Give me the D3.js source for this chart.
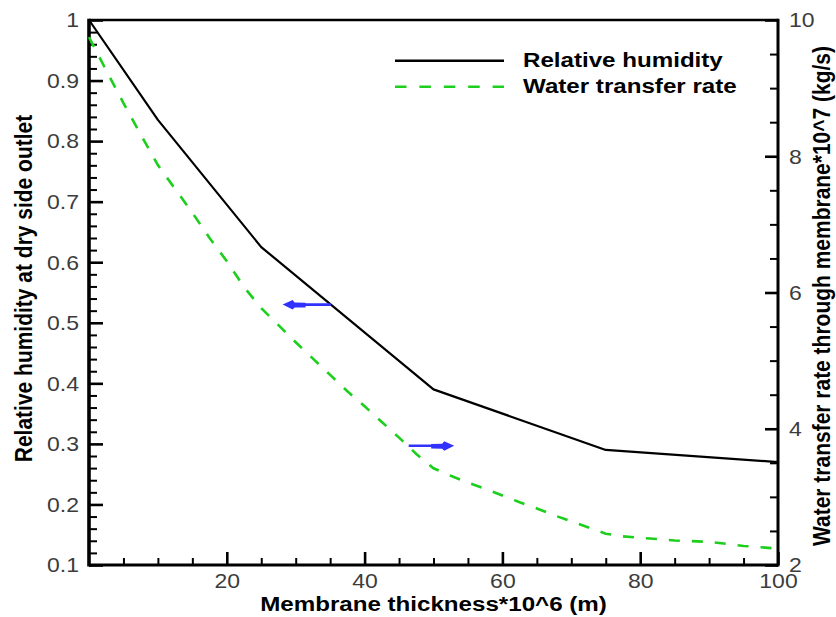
<!DOCTYPE html>
<html>
<head>
<meta charset="utf-8">
<script src="https://cdn.jsdelivr.net/npm/d3@7"></script>
<style>
  html, body { margin: 0; padding: 0; background: #fff; }
  svg { display: block; }
  text { font-family: "Liberation Sans", Arial, sans-serif; }
</style>
</head>
<body>
<svg id="chart" width="836" height="617"></svg>
<script>
// Membrane thickness (x 10^-6 m) for the relative humidity curve
const thickness = [0, 10, 25, 50, 75, 100];
// Relative humidity at the dry side outlet
const relHumidity = [1.0, 0.835, 0.625, 0.39, 0.29, 0.27];

// Membrane thickness samples for the water transfer curve
const rateThickness = [0, 2.5, 5, 7.5, 10, 12.5, 15, 17.5, 20, 22.5, 25, 27.5, 30, 32.5, 35,
  37.5, 40, 42.5, 45, 47.5, 50, 52.5, 55, 57.5, 60, 62.5, 65, 67.5, 70, 72.5, 75,
  77.5, 80, 82.5, 85, 87.5, 90, 92.5, 95, 97.5, 100];
// Water transfer rate through the membrane (x 10^-7 kg/s)
const waterRate = [9.75, 9.26, 8.78, 8.32, 7.87, 7.52, 7.17, 6.80, 6.46, 6.08, 5.77,
  5.52, 5.27, 5.03, 4.79, 4.55, 4.33, 4.10, 3.87, 3.63, 3.42, 3.31, 3.21, 3.12, 3.02,
  2.92, 2.83, 2.73, 2.64, 2.55, 2.46, 2.42, 2.40, 2.38, 2.36, 2.35, 2.34, 2.31, 2.28,
  2.26, 2.24];

// Tick values
const xTicks = [20, 40, 60, 80, 100];
const xMinorTicks = d3.range(5, 100, 5).filter(v => v % 20 !== 0);
const leftTicks = [0.1, 0.2, 0.3, 0.4, 0.5, 0.6, 0.7, 0.8, 0.9, 1];
const leftMinorTicks = d3.range(0.12, 1, 0.02).map(v => +v.toFixed(2)).filter(v => Math.round(v * 100) % 10 !== 0);
const rightTicks = [2, 4, 6, 8, 10];
const rightMinorTicks = d3.range(2.5, 10, 0.5).filter(v => v % 2 !== 0);

// Direction markers: [fromThickness, toThickness, value]
const rhArrow = [35.1, 28.1, 0.53];
const rateArrow = [46.4, 53.0, 3.75];

const seriesNames = ["Relative humidity", "Water transfer rate"];

const W = 836, H = 617;
const m = { left: 89, right: 58, top: 20, bottom: 52 };
const svg = d3.select("#chart");
const SX = 1.15; // horizontal stretch of lettering

const x = d3.scaleLinear().domain([0, 100]).range([m.left, W - m.right]);
const yL = d3.scaleLinear().domain([0.1, 1]).range([H - m.bottom, m.top]);
const yR = d3.scaleLinear().domain([2, 10]).range([H - m.bottom, m.top]);

const tickColor = "#000";
const labelColor = "#3c3c3c";

function stretchLabels(g) {
  g.selectAll("text").each(function () {
    const t = d3.select(this);
    const tx = +(t.attr("x") || 0);
    t.attr("x", 0).attr("transform", `translate(${tx},0) scale(${SX},1)`);
  });
}

function styleAxis(g, major) {
  g.select(".domain").remove();
  g.selectAll("line").attr("stroke", tickColor).attr("stroke-width", major ? 2.6 : 2);
  g.selectAll("text").attr("fill", labelColor).style("font-size", "20px");
}

// Minor ticks
svg.append("g").attr("transform", `translate(${m.left},0)`)
  .call(d3.axisLeft(yL).tickValues(leftMinorTicks).tickFormat("").tickSizeInner(-8).tickSizeOuter(0))
  .call(g => styleAxis(g, false));
svg.append("g").attr("transform", `translate(${W - m.right},0)`)
  .call(d3.axisRight(yR).tickValues(rightMinorTicks).tickFormat("").tickSizeInner(-8).tickSizeOuter(0))
  .call(g => styleAxis(g, false));
svg.append("g").attr("transform", `translate(0,${H - m.bottom})`)
  .call(d3.axisBottom(x).tickValues(xMinorTicks).tickFormat("").tickSizeInner(-7).tickSizeOuter(0))
  .call(g => styleAxis(g, false));

// Major ticks with labels
svg.append("g").attr("transform", `translate(${m.left},0)`)
  .call(d3.axisLeft(yL).tickValues(leftTicks).tickFormat(d3.format("~g")).tickSizeInner(-14).tickSizeOuter(0).tickPadding(10))
  .call(g => styleAxis(g, true))
  .call(g => g.selectAll("text").attr("dy", "0.34em"))
  .call(stretchLabels);
svg.append("g").attr("transform", `translate(${W - m.right},0)`)
  .call(d3.axisRight(yR).tickValues(rightTicks).tickFormat(d3.format("d")).tickSizeInner(-13).tickSizeOuter(0).tickPadding(11))
  .call(g => styleAxis(g, true))
  .call(g => g.selectAll("text").attr("dy", "0.34em"))
  .call(stretchLabels);
svg.append("g").attr("transform", `translate(0,${H - m.bottom})`)
  .call(d3.axisBottom(x).tickValues(xTicks).tickFormat(d3.format("d")).tickSizeInner(-13).tickSizeOuter(0).tickPadding(9))
  .call(g => styleAxis(g, true))
  .call(stretchLabels);

// Frame
const x0 = x(0), x1 = x(100), yT = yL(1), yB = yL(0.1);
svg.append("line").attr("x1", x0).attr("x2", x1).attr("y1", yT).attr("y2", yT).attr("stroke", "#000").attr("stroke-width", 2.6);
svg.append("line").attr("x1", x0).attr("x2", x1).attr("y1", yB).attr("y2", yB).attr("stroke", "#000").attr("stroke-width", 3);
svg.append("line").attr("x1", x0).attr("x2", x0).attr("y1", yT - 1.3).attr("y2", yB + 1.5).attr("stroke", "#000").attr("stroke-width", 3.6);
svg.append("line").attr("x1", x1).attr("x2", x1).attr("y1", yT - 1.3).attr("y2", yB + 1.5).attr("stroke", "#000").attr("stroke-width", 3);

// Curves
const rhLine = d3.line().x((d, i) => x(thickness[i])).y(d => yL(d));
svg.append("path").datum(relHumidity)
  .attr("d", rhLine).attr("fill", "none").attr("stroke", "#000").attr("stroke-width", 2.2)
  .attr("stroke-linejoin", "round");

const rateLine = d3.line().x((d, i) => x(rateThickness[i])).y(d => yR(d));
const green = "#1ccf1c";
svg.append("path").datum(waterRate)
  .attr("d", rateLine).attr("fill", "none").attr("stroke", green).attr("stroke-width", 2.6)
  .attr("stroke-dasharray", "11,12");

// Direction arrows
const blue = "#3232ff";
function arrow(fromX, toX, ypx) {
  const tail = x(fromX), tip = x(toX);
  const dir = Math.sign(tail - tip); // +1 when the tip is on the left
  svg.append("line").attr("x1", tail).attr("x2", tip + dir * 8).attr("y1", ypx).attr("y2", ypx)
    .attr("stroke", blue).attr("stroke-width", 2.6);
  const pts = [
    [tip, ypx],
    [tip + dir * 10, ypx - 4.5],
    [tip + dir * 12, ypx - 2],
    [tip + dir * 23, ypx - 1.8],
    [tip + dir * 23, ypx + 2.8],
    [tip + dir * 12, ypx + 3],
    [tip + dir * 10, ypx + 5],
  ];
  svg.append("polygon").attr("points", pts.map(p => p.join(",")).join(" ")).attr("fill", blue);
}
arrow(rhArrow[0], rhArrow[1], yL(rhArrow[2]));
arrow(rateArrow[0], rateArrow[1], yR(rateArrow[2]));

// Legend
const lg = svg.append("g");
lg.append("line").attr("x1", 395).attr("x2", 504).attr("y1", 60.7).attr("y2", 60.7)
  .attr("stroke", "#000").attr("stroke-width", 2.4);
lg.append("line").attr("x1", 395).attr("x2", 504).attr("y1", 86.7).attr("y2", 86.7)
  .attr("stroke", green).attr("stroke-width", 2.6).attr("stroke-dasharray", "11.5,12.9");
[[seriesNames[0], 67], [seriesNames[1], 93]].forEach(([t, yb]) => {
  lg.append("text").attr("transform", `translate(523,${yb}) scale(${SX},1)`)
    .style("font-size", "21px").style("font-weight", "bold").attr("fill", "#000").text(t);
});

// Axis titles
svg.append("text").attr("transform", `translate(${(x0 + x1) / 2},611) scale(${SX},1)`)
  .attr("text-anchor", "middle").style("font-size", "21px").style("font-weight", "bold")
  .text("Membrane thickness*10^6 (m)");
svg.append("text").attr("transform", `translate(32,288.5) scale(${SX},1) rotate(-90)`)
  .attr("text-anchor", "middle").style("font-size", "21px").style("font-weight", "bold")
  .text("Relative humidity at dry side outlet");
svg.append("text").attr("transform", `translate(830,296) scale(${SX},1) rotate(-90)`)
  .attr("text-anchor", "middle").style("font-size", "21px").style("font-weight", "bold")
  .text("Water transfer rate through membrane*10^7 (kg/s)");
</script>
</body>
</html>
